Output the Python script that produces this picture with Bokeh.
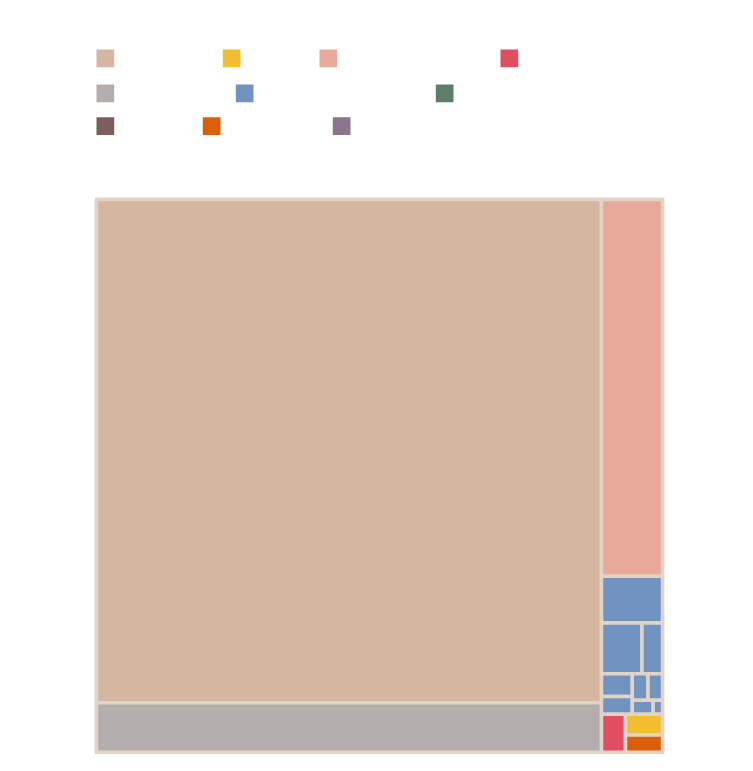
from bokeh.plotting import figure
from bokeh.models import Range1d, ColumnDataSource
from bokeh.embed import file_html
from bokeh.resources import INLINE

# ---- data ----
# legend categories (the reference shows no label text, only the swatches)
category_colors = ["#d5b6a1", "#f3bd30", "#e8a99b", "#e34d61", "#b3aeab",
                   "#7093c2", "#5d7d6d", "#7b5f5d", "#db5f06", "#8c738f"]
legend_rows = [[0, 1, 2, 3], [4, 5, 6], [7, 8, 9]]

leaf_values = [254200, 24950, 22990,
               2837, 2057, 1041, 704, 544, 419, 387, 288, 129,
               914, 771, 638]
leaf_category = [0, 4, 2,
                 5, 5, 5, 5, 5, 5, 5, 5, 5,
                 3, 1, 8]
# nested hierarchy of leaf indices
tree = [[0, 1],
        [2, [3, [4, 5], [[6, 7], [[8, 9], [10, 11]]]], [12, [13, 14]]]]

# ---- layout / style ----
W, H = 745, 763
ROOT = (96.0, 199.0, 662.0, 751.75)   # x0, y0, x1, y1 (y downward)
PAD = 1.75
FRAME_COLOR = "#e1d4c6"
LEG_X = [[96, 222.3, 319, 500], [96, 235.3, 435.3], [96, 202.3, 332.3]]
LEG_Y = [49, 84, 116.7]
LEG_S = 17.7


def total(node):
    return leaf_values[node] if isinstance(node, int) else sum(total(c) for c in node)


def layout(node, x0, y0, x1, y1, out):
    if isinstance(node, int):
        out.append((node, x0, y0, x1, y1))
        return
    tot = total(node)
    horiz = (x1 - x0) > (y1 - y0)
    pos = x0 if horiz else y0
    for c in node:
        frac = total(c) / tot
        if horiz:
            w = (x1 - x0) * frac
            layout(c, pos, y0, pos + w, y1, out)
            pos += w
        else:
            h = (y1 - y0) * frac
            layout(c, x0, pos, x1, pos + h, out)
            pos += h


cells = []
layout(tree, *ROOT, cells)

src = ColumnDataSource(dict(
    left=[c[1] for c in cells], right=[c[3] for c in cells],
    top=[c[2] for c in cells], bottom=[c[4] for c in cells],
    color=[category_colors[leaf_category[c[0]]] for c in cells],
))

p = figure(width=W, height=H, output_backend="svg", toolbar_location=None,
           x_range=Range1d(0, W), y_range=Range1d(H, 0), min_border=0,
           background_fill_color="white", border_fill_color="white")
p.axis.visible = False
p.grid.visible = False
p.outline_line_color = None

# frame
p.quad(left=[ROOT[0] - PAD], right=[ROOT[2] + PAD], top=[ROOT[1] - PAD],
       bottom=[ROOT[3] + PAD], fill_color=FRAME_COLOR, line_color=None)
# cells
p.quad(left="left", right="right", top="top", bottom="bottom", source=src,
       fill_color="color", line_color=FRAME_COLOR, line_width=2 * PAD)

# legend swatches
lx, ly, lc = [], [], []
for r, row in enumerate(legend_rows):
    for k, ci in enumerate(row):
        lx.append(LEG_X[r][k])
        ly.append(LEG_Y[r])
        lc.append(category_colors[ci])
p.quad(left=lx, right=[x + LEG_S for x in lx], top=ly,
       bottom=[y + LEG_S for y in ly], fill_color=lc, line_color=None)

open("out.html", "w").write(file_html(p, INLINE))
